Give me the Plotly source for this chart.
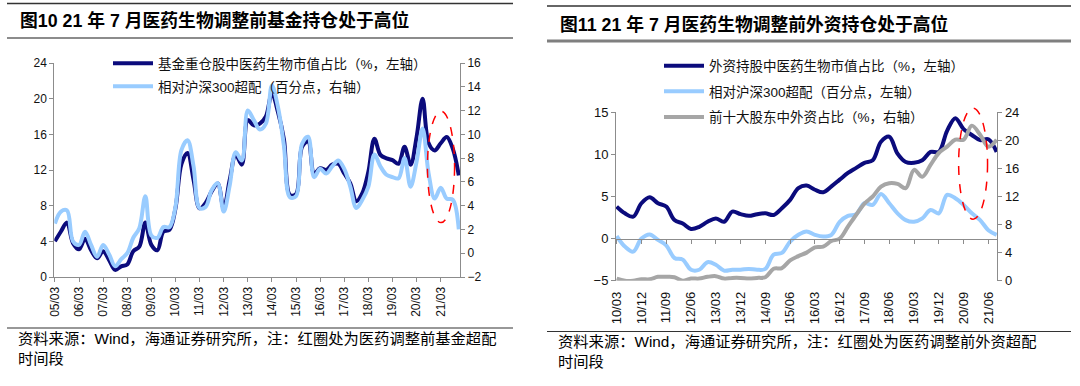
import plotly.graph_objects as go

W, H = 1080, 386
FONT = "Liberation Sans, Noto Sans CJK SC, sans-serif"
NAVY = "#0b0b7c"
LIGHT = "#99ccff"
GRAY = "#a6a6a6"
AX = "#8c8c8c"
TXT = "#111111"

# ---------------- Figure 10 data (quarterly, 05/03 - 21/12) ----------------
left_quarters = [f"{y:02d}/{m:02d}" for y in range(5, 22) for m in (3, 6, 9, 12)]
left_ticks = [f"{y:02d}/03" for y in range(5, 22)]
fund_share = [4.0, 5.1, 6.1, 3.8, 3.1, 4.3, 3.0, 2.1, 2.9, 1.9,
              0.8, 1.2, 1.4, 2.9, 3.4, 6.1, 3.6, 3.0, 5.1, 5.3,
              7.7, 12.7, 13.9, 10.9, 7.7, 8.3, 9.6, 10.5, 7.7, 10.9,
              13.7, 12.6, 17.6, 17.0, 17.2, 18.0, 20.6, 18.5, 15.4, 9.2,
              9.3, 14.6, 15.2, 11.6, 12.2, 12.0, 12.6, 12.7, 11.6, 10.5,
              8.5, 9.4, 11.8, 15.5, 13.7, 13.3, 13.1, 12.7, 14.6, 12.6,
              15.7, 20.0, 15.0, 14.2, 15.0, 15.7, 14.4, 11.4]
fund_overweight = [2.5, 3.5, 3.6, 1.0, 0.7, 1.8, 0.7, -0.3, 0.7, -0.1,
                   -1.1, -0.5, 0.0, 1.3, 2.1, 4.8, 1.5, 1.3, 2.2, 2.2,
                   3.9, 8.7, 9.5, 7.3, 3.8, 3.9, 5.3, 5.9, 3.5, 5.7,
                   8.5, 7.8, 12.0, 11.2, 10.4, 10.9, 14.1, 12.3, 9.0, 4.7,
                   4.8, 9.2, 9.8, 6.4, 7.1, 6.7, 7.3, 7.8, 7.1, 5.6,
                   3.8, 4.5, 5.6, 8.3, 7.3, 6.6, 6.4, 6.3, 8.0, 5.6,
                   7.7, 10.5, 6.7, 4.6, 5.5, 4.6, 4.5, 2.0]
left_ellipse = dict(x0=61.8, x1=66.3, y0=6.1, y1=18.6)

# ---------------- Figure 11 data (quarterly, 10/03 - 21/09) ----------------
right_quarters = [f"{y:02d}/{m:02d}" for y in range(10, 22) for m in (3, 6, 9, 12)][:47]
right_ticks = ["10/03", "10/12", "11/09", "12/06", "13/03", "13/12", "14/09", "15/06",
               "16/03", "16/12", "17/09", "18/06", "19/03", "19/12", "20/09", "21/06"]
foreign_share = [3.8, 3.0, 2.6, 4.2, 4.9, 4.2, 3.8, 2.2, 1.8, 1.15,
                 1.4, 2.0, 2.4, 2.0, 3.2, 2.9, 2.7, 2.9, 3.0, 2.8,
                 3.6, 4.6, 6.0, 6.3, 5.8, 5.5, 6.2, 7.0, 7.8, 8.4,
                 9.0, 9.3, 11.5, 12.1, 10.1, 9.1, 9.0, 9.3, 10.3, 10.3,
                 12.8, 14.3, 13.0, 12.3, 11.7, 11.8, 10.3]
foreign_overweight = [0.3, -0.95, -1.55, 0.0, 0.5, -0.15, -0.8, -2.3, -2.5, -3.7,
                      -3.7, -2.8, -3.1, -3.8, -3.7, -3.7, -3.6, -3.7, -3.6, -1.9,
                      -1.7, -0.35, 0.45, 0.85, 0.45, 0.25, 0.45, 2.0, 2.7, 2.9,
                      4.2, 4.0, 5.3, 4.2, 3.0, 2.2, 2.0, 2.4, 3.4, 3.0,
                      5.2, 4.8, 4.0, 3.0, 2.2, 1.0, 0.45]
top10_foreign = [0.3, 0.0, 0.0, 0.2, 0.2, 0.55, 0.55, 0.5, 0.0, 0.3,
                 0.3, 0.55, 0.65, 0.3, 0.4, 0.4, 0.3, 0.4, 0.5, 1.7,
                 1.8, 2.9, 3.5, 4.0, 4.75, 4.85, 5.65, 6.0, 7.7, 9.4,
                 11.0, 12.0, 13.4, 13.9, 13.8, 13.2, 15.8, 14.8, 16.5, 18.2,
                 19.1, 20.1, 20.1, 22.1, 20.8, 19.1, 20.1]
right_ellipse = dict(x0=41.4, x1=44.9, y0=2.3, y1=15.5)

# ---------------- layout geometry (pixels) ----------------
def px(x):
    return x / W

def py(y):
    return 1 - y / H

L_X = [54.3, 460.0]
L_Y = [277.0, 63.0]
R_X = [616.0, 997.3]
R_Y = [280.7, 112.3]
L_RANGE, L2_RANGE = [0, 24], [-2, 16]
R_RANGE, R2_RANGE = [-5, 15], [0, 24]

r_dom_y = [py(R_Y[0]), py(R_Y[1])]
zero_pos = r_dom_y[0] + (0 - R_RANGE[0]) / (R_RANGE[1] - R_RANGE[0]) * (r_dom_y[1] - r_dom_y[0])
zero_px = R_Y[0] - (0 - R_RANGE[0]) / (R_RANGE[1] - R_RANGE[0]) * (R_Y[0] - R_Y[1])

fig = go.Figure()
line = lambda c: dict(color=c, width=4, shape="spline", smoothing=1)

fig.add_trace(go.Scatter(x=left_quarters, y=fund_share, xaxis="x", yaxis="y", mode="lines",
                         line=line(NAVY), name="基金重仓股中医药生物市值占比（%，左轴）",
                         legend="legend", legendgroup="a", hoverinfo="skip"))
fig.add_trace(go.Scatter(x=left_quarters, y=fund_overweight, xaxis="x", yaxis="y2", mode="lines",
                         line=line(LIGHT), name="相对沪深300超配（百分点，右轴）",
                         legend="legend", legendgroup="b", hoverinfo="skip"))
fig.add_trace(go.Scatter(x=right_quarters, y=foreign_share, xaxis="x2", yaxis="y3", mode="lines",
                         line=line(NAVY), name="外资持股中医药生物市值占比（%，左轴）",
                         legend="legend2", legendgroup="c", hoverinfo="skip"))
fig.add_trace(go.Scatter(x=right_quarters, y=foreign_overweight, xaxis="x2", yaxis="y3", mode="lines",
                         line=line(LIGHT), name="相对沪深300超配（百分点，左轴）",
                         legend="legend2", legendgroup="d", hoverinfo="skip"))
fig.add_trace(go.Scatter(x=right_quarters, y=top10_foreign, xaxis="x2", yaxis="y4", mode="lines",
                         line=line(GRAY), name="前十大股东中外资占比（%，右轴）",
                         legend="legend2", legendgroup="e", hoverinfo="skip"))

axis_common = dict(showgrid=False, zeroline=False, showline=True, linecolor=AX, linewidth=1,
                   ticks="outside", ticklen=4, tickcolor=AX, tickwidth=1, automargin=False)

fig.update_layout(
    width=W, height=H, margin=dict(l=0, r=0, t=0, b=0, pad=0, autoexpand=False),
    paper_bgcolor="white", plot_bgcolor="white",
    font=dict(family=FONT, color=TXT),
    xaxis=dict(domain=[px(L_X[0]), px(L_X[1])], anchor="y", type="category",
               categoryorder="array", categoryarray=left_quarters,
               range=[-0.1, 67.2], tickmode="array", tickvals=left_ticks, ticktext=left_ticks,
               tickangle=-90, tickfont=dict(size=12, family=FONT, color=TXT), **axis_common),
    yaxis=dict(domain=[py(L_Y[0]), py(L_Y[1])], anchor="x", range=L_RANGE, dtick=4, tick0=0,
               tickfont=dict(size=12, family=FONT, color=TXT), **axis_common),
    yaxis2=dict(overlaying="y", side="right", anchor="x", range=L2_RANGE, dtick=2, tick0=0,
                tickfont=dict(size=12, family=FONT, color=TXT), **axis_common),
    xaxis2=dict(domain=[px(R_X[0]), px(R_X[1])], anchor="free", position=zero_pos, type="category",
                categoryorder="array", categoryarray=right_quarters,
                range=[-0.08, 46.08], tickmode="array", tickvals=right_ticks, ticktext=right_ticks,
                tickangle=-90, ticklabelstandoff=round(R_Y[0] - zero_px) + 1,
                tickfont=dict(size=13, family=FONT, color=TXT), **axis_common),
    yaxis3=dict(domain=r_dom_y, anchor="x2", range=R_RANGE, dtick=5, tick0=0,
                tickfont=dict(size=13, family=FONT, color=TXT), **axis_common),
    yaxis4=dict(overlaying="y3", side="right", anchor="x2", range=R2_RANGE, dtick=4, tick0=0,
                tickfont=dict(size=13, family=FONT, color=TXT), **axis_common),
    legend=dict(x=px(108), y=py(48), xanchor="left", yanchor="top", bgcolor="rgba(0,0,0,0)",
                font=dict(size=13.5, family=FONT, color=TXT), traceorder="grouped",
                tracegroupgap=2.5, itemwidth=40),
    legend2=dict(x=px(659), y=py(50.5), xanchor="left", yanchor="top", bgcolor="rgba(0,0,0,0)",
                 font=dict(size=13.5, family=FONT, color=TXT), traceorder="grouped",
                 tracegroupgap=5, itemwidth=40),
    showlegend=True,
)

# ---- red dashed ellipses
fig.add_shape(type="circle", xref="x", yref="y", **left_ellipse,
              line=dict(color="#ff0000", width=1.5, dash="dash"))
rspan = R_RANGE[1] - R_RANGE[0]
fig.add_shape(type="circle", xref="x2", yref="y3 domain",
              x0=right_ellipse["x0"], x1=right_ellipse["x1"],
              y0=(right_ellipse["y0"] - R_RANGE[0]) / rspan,
              y1=(right_ellipse["y1"] - R_RANGE[0]) / rspan,
              line=dict(color="#ff0000", width=1.5, dash="dash"))

# ---- rules
def hline(x0, x1, y, color, width):
    fig.add_shape(type="line", xref="paper", yref="paper", x0=px(x0), x1=px(x1), y0=py(y), y1=py(y),
                  line=dict(color=color, width=width))

hline(7, 513, 3.5, "#333333", 1.3)
hline(7, 513, 38, "#666666", 1.5)
hline(7, 513, 328, "#333333", 1.2)
hline(547, 1071, 6, "#333333", 1.3)
hline(547, 1071, 41, "#7f7f7f", 3)
hline(547, 1071, 331.5, "#333333", 1.2)

# ---- titles and sources
def text(x, y, s, size, yanchor="middle"):
    fig.add_annotation(x=px(x), y=py(y), xref="paper", yref="paper", text=s, showarrow=False,
                       xanchor="left", yanchor=yanchor, align="left",
                       font=dict(size=size, family=FONT, color="#000000"))

text(18, 21, "<b>图10 21 年 7 月医药生物调整前基金持仓处于高位</b>", 17.8)
text(558, 24, "<b>图11 21 年 7 月医药生物调整前外资持仓处于高位</b>", 17.8)
text(16, 348.5, "资料来源：Wind，海通证券研究所，注：红圈处为医药调整前基金超配<br>时间段", 15.3)
text(556, 351, "资料来源：Wind，海通证券研究所，注：红圈处为医药调整前外资超配<br>时间段", 15.3)

# page body margin reset so the 1080x386 figure fills the window exactly
fig.write_html("out.html", config={"displayModeBar": False},
               post_script="document.body.style.margin='0';")
